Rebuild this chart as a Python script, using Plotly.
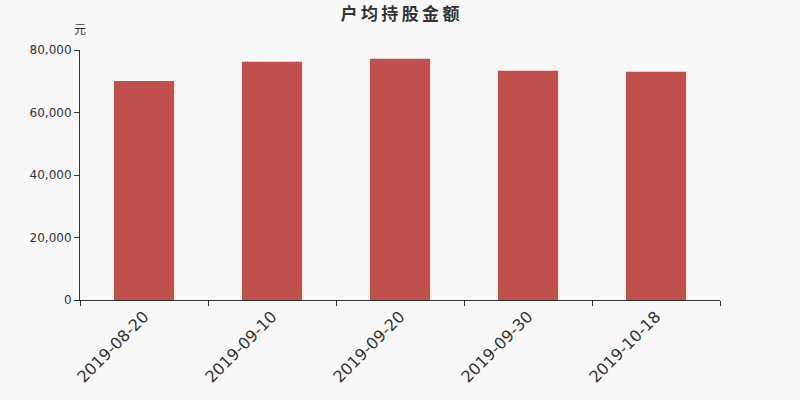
import plotly.graph_objects as go

dates = ['2019-08-20', '2019-09-10', '2019-09-20', '2019-09-30', '2019-10-18']
amounts = [70100, 76250, 77200, 73350, 73050]
y_ticks = [0, 20000, 40000, 60000, 80000]
y_tick_labels = ['0', '20,000', '40,000', '60,000', '80,000']
title_text = '户均持股金额'

fig = go.Figure()

fig.add_trace(go.Bar(x = dates, y = amounts, marker_color = '#c0504d', marker_line_width = 0))

# spread the title characters a little, like the original
spaced_title = '\u2009'.join(title_text)

fig.update_layout(
    width = 800, height = 400,
    paper_bgcolor = '#f8f8f8', plot_bgcolor = '#f8f8f8',
    margin = dict(l = 80, r = 80, t = 50, b = 100),
    bargap = 0.53,
    showlegend = False,
    font = dict(family = 'Noto Sans CJK SC, DejaVu Sans', color = '#333333'),
    title = dict(text = '<b>' + spaced_title + '</b>', x = 0.5, xanchor = 'center', y = 0.965, yanchor = 'middle',
                 font = dict(size = 17, color = '#333333')),
)

fig.update_xaxes(
    type = 'category', tickangle = -45, tickfont = dict(size = 16, family = 'DejaVu Sans'),
    showline = True, linecolor = '#333333', linewidth = 1,
    ticks = 'outside', ticklen = 5, tickcolor = '#333333', tickson = 'boundaries',
    showgrid = False,
)

fig.update_yaxes(
    range = [0, 80000], tickvals = y_ticks, ticktext = y_tick_labels,
    tickfont = dict(size = 12, family = 'DejaVu Sans'),
    showline = True, linecolor = '#333333', linewidth = 1,
    ticks = 'outside', ticklen = 5, tickcolor = '#333333',
    showgrid = False, zeroline = False,
)

fig.add_annotation(text = '元', xref = 'paper', yref = 'paper', x = 0, y = 1, yshift = 22,
                   showarrow = False, font = dict(size = 12, color = '#333333'),
                   xanchor = 'center', yanchor = 'middle')

fig.write_html("out.html", config = {'displayModeBar': False},
               post_script = "document.body.style.margin='0';document.body.style.background='#f8f8f8';")
